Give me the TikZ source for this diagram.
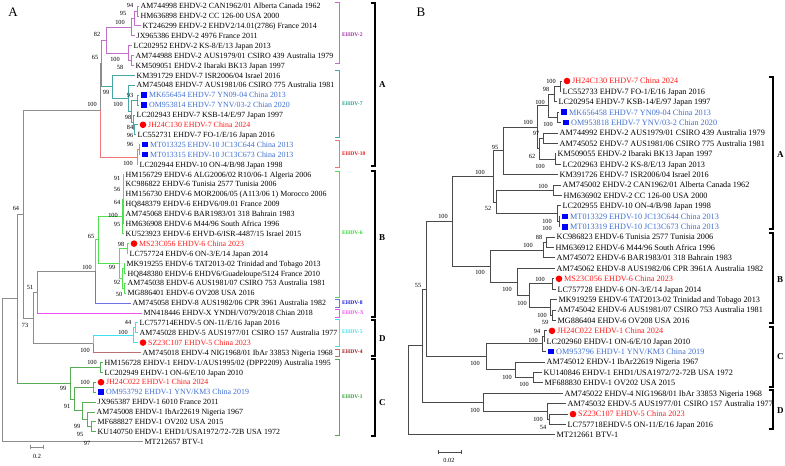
\documentclass[tikz,border=0pt]{standalone}
\usepackage{fontspec}
\setmainfont{Liberation Serif}
\usetikzlibrary{calc}

\definecolor{brgray}{HTML}{8C8C8C}
\definecolor{brdark}{HTML}{4A4A4A}
\definecolor{cltwo}{HTML}{C070C8}
\definecolor{lbtwo}{HTML}{A030A8}
\definecolor{clseven}{HTML}{48A8A8}
\definecolor{lbseven}{HTML}{20A090}
\definecolor{clten}{HTML}{F07878}
\definecolor{lbten}{HTML}{E81818}
\definecolor{clsix}{HTML}{50E050}
\definecolor{lbsix}{HTML}{30D830}
\definecolor{cleight}{HTML}{7070E8}
\definecolor{lbeight}{HTML}{1818E0}
\definecolor{clx}{HTML}{F050F0}
\definecolor{clfive}{HTML}{40E0F0}
\definecolor{clfour}{HTML}{B87070}
\definecolor{lbfour}{HTML}{A01818}
\definecolor{clone}{HTML}{58AC58}
\definecolor{lbone}{HTML}{30A030}
\definecolor{txtred}{HTML}{FF1A1A}
\definecolor{txtblue}{HTML}{3F6FD0}

\tikzset{
  brA/.style={line width=0.8pt, brgray},
  brB/.style={line width=1pt, brdark},
  tipA/.style={anchor=west, inner sep=1.5pt, font=\fontsize{7.9}{9}\selectfont, text height=5.4pt, text depth=0pt},
  tipB/.style={anchor=west, inner sep=1.5pt, font=\fontsize{8.2}{9}\selectfont, text height=5.6pt, text depth=0pt},
  bs/.style={inner sep=0pt, font=\fontsize{6.3}{7}\selectfont},
  dotm/.style={circle, fill=red, minimum size=6.6pt, inner sep=0pt},
  sqm/.style={fill=blue, minimum size=5.6pt, inner sep=0pt},
  sub/.style={anchor=west, inner sep=0pt, font=\fontsize{5.6}{7}\selectfont\bfseries},
  cltxt/.style={anchor=west, inner sep=0pt, font=\fontsize{9}{10}\selectfont\bfseries},
}

% internal node of a tree: name, x, child one, child two, style one, style two
\newcommand{\treenode}[6]{%
  \coordinate (#1-m) at ($(#3)!.5!(#4)$);
  \coordinate (#1) at (#2,0 |- #1-m);
  \draw[#5] (#1) |- (#3);
  \draw[#6] (#1) |- (#4);}
% bracket on the right: x, top, bottom, style
\newcommand{\cladebar}[4]{%
  \draw[#4] (#1-4,#2) -- (#1,#2) -- (#1,#3) -- (#1-4,#3);}

\begin{document}
\begin{tikzpicture}[x=1pt, y=-1pt]
	\useasboundingbox (0,0) rectangle (785,466);
	\def\rowA{9.9} % row step A
	\def\rowB{10.41} % row step B
	
	\node[font=\fontsize{13}{14}\selectfont] (pA) at (13,12) {A};
	\node[font=\fontsize{13}{14}\selectfont] (pB) at (421,12) {B};
	
	%%%%%%%%%%%%%%%%%%%% tree A
	% tips
	\foreach \i/\e/\t in {0/139/{AM744998 EHDV-2 CAN1962/01 Alberta Canada 1962},
		1/139/{HM636898 EHDV-2 CC 126-00 USA 2000},
		2/141/{KT246299 EHDV-2 EHDV2/14.01(2786) France 2014},
		3/135/{JX965386 EHDV-2 4976 France 2011},
		4/132/{LC202952 EHDV-2 KS-8/E/13 Japan 2013},
		5/134/{AM744988 EHDV-2 AUS1979/01 CSIRO 439 Australia 1979},
		6/134/{KM509051 EHDV-2 Ibaraki BK13 Japan 1997},
		7/135/{KM391729 EHDV-7 ISR2006/04 Israel 2016},
		8/135/{AM745048 EHDV-7 AUS1981/06 CSIRO 775 Australia 1981},
		11/135/{LC202943 EHDV-7 KSB-14/E/97 Japan 1997},
		13/136/{LC552731 EHDV-7 FO-1/E/16 Japan 2016},
		16/138/{LC202944 EHDV-10 ON-4/B/98 Japan 1998},
		17/124/{HM156729 EHDV-6 ALG2006/02 R10/06-1 Algeria 2006},
		18/124/{KC986822 EHDV-6 Tunisia 2577 Tunisia 2006},
		19/124/{HM156730 EHDV-6 MOR2006/05 (A113/06 1) Morocco 2006},
		20/124/{HQ848379 EHDV-6 EHDV6/09.01 France 2009},
		21/124/{AM745068 EHDV-6 BAR1983/01 318 Bahrain 1983},
		22/124/{HM636908 EHDV-6 M44/96 South Africa 1996},
		23/124/{KU523923 EHDV-6 EHVD-6/ISR-4487/15 Israel 2015},
		25/128/{LC757724 EHDV-6 ON-3/E/14 Japan 2014},
		26/125/{MK919255 EHDV-6 TAT2013-02 Trinidad and Tobago 2013},
		27/126/{HQ848380 EHDV-6 EHDV6/Guadeloupe/5124 France 2010},
		28/126/{AM745038 EHDV-6 AUS1981/07 CSIRO 753 Australia 1981},
		29/126/{MG886401 EHDV-6 OV208 USA 2016},
		30/131/{AM745058 EHDV-8 AUS1982/06 CPR 3961 Australia 1982},
		31/142/{MN418446 EHDV-X YNDH/V079/2018 Chian 2018},
		32/138/{LC757714EHDV-5 ON-11/E/16 Japan 2016},
		33/138/{AM745028 EHDV-5 AUS1977/01 CSIRO 157 Australia 1977},
		35/141/{AM745018 EHDV-4 NIG1968/01 IbAr 33853 Nigeria 1968},
		36/103/{HM156728 EHDV-1 EHDV-1/AUS1995/02 (DPP2209) Australia 1995},
		37/103/{LC202949 EHDV-1 ON-6/E/10 Japan 2010},
		40/96/{JX965387 EHDV-1 6010 France 2011},
		41/95/{AM745008 EHDV-1 IbAr22619 Nigeria 1967},
		42/96/{MF688827 EHDV-1 OV202 USA 2015},
		43/96/{KU140750 EHDV-1 EHD1/USA1972/72-72B USA 1972},
		44/143/{MT212657 BTV-1}}
	{
		\coordinate (a\i) at (\e,{6+\rowA*\i});
		\node[tipA] (ta\i) at (a\i) {\t};
	}
	% new strains
	\foreach \i/\e/\t in {12/138/{JH24C130 EHDV-7 China 2024},
		24/129/{MS23C056 EHDV-6 China 2023},
		34/138/{SZ23C107 EHDV-5 China 2023},
		38/96/{JH24C022 EHDV-1 China 2024}}
	{
		\coordinate (a\i) at (\e,{6+\rowA*\i});
		\node[dotm] (ma\i) at ($(a\i)+(5,0)$) {};
		\node[tipA, text=txtred] (ta\i) at ($(a\i)+(8.5,0)$) {\t};
	}
	\foreach \i/\e/\t in {9/139/{MK656454 EHDV-7 YN09-04 China 2013},
		10/139/{OM953814 EHDV-7 YNV/03-2 Chian 2020},
		14/140/{MT013325 EHDV-10 JC13C644 China 2013},
		15/140/{MT013315 EHDV-10 JC13C673 China 2013},
		39/96/{OM953792 EHDV-1 YNV/KM3 China 2019}}
	{
		\coordinate (a\i) at (\e,{6+\rowA*\i});
		\node[sqm] (ma\i) at ($(a\i)+(5,0)$) {};
		\node[tipA, text=txtblue] (ta\i) at ($(a\i)+(8.5,0)$) {\t};
	}
	
	% EHDV-2
	\treenode{Am94}{137}{a0}{a1}{brA,cltwo}{brA,cltwo}
	\treenode{Am95}{134}{Am94}{a2}{brA,cltwo}{brA,cltwo}
	\treenode{Am100a}{131}{Am95}{a3}{brA,cltwo}{brA,cltwo}
	\treenode{Am58}{131}{a5}{a6}{brA,cltwo}{brA,cltwo}
	\treenode{Am100b}{128}{a4}{Am58}{brA,cltwo}{brA,cltwo}
	\treenode{Am82}{106}{Am100a}{Am100b}{brA,cltwo}{brA,cltwo}
	% EHDV-7
	\treenode{At93}{137}{a9}{a10}{brA,clseven}{brA,clseven}
	\treenode{At96}{134.5}{a12}{a13}{brA,clseven}{brA,clseven}
	\treenode{At84}{133}{a11}{At96}{brA,clseven}{brA,clseven}
	\treenode{At98}{131}{At93}{At84}{brA,clseven}{brA,clseven}
	\treenode{At100}{128}{a8}{At98}{brA,clseven}{brA,clseven}
	\treenode{At99}{112}{a7}{At100}{brA,clseven}{brA,clseven}
	\treenode{A65}{101}{Am82}{At99}{brA,cltwo}{brA,clseven}
	% EHDV-10
	\treenode{Ar96}{139}{a14}{a15}{brA,clten}{brA,clten}
	\treenode{Ar100}{137}{Ar96}{a16}{brA,clten}{brA,clten}
	\treenode{AA}{100}{A65}{Ar100}{brA}{brA,clten}
	% EHDV-6
	\coordinate (Ag1-m) at ($(a17)!.5!(a22)$);
	\coordinate (Ag1) at (123,0 |- Ag1-m);
	\foreach \k in {17,...,22}
		\draw[brA,clsix] (Ag1) |- (a\k);
	\treenode{Ag2}{122}{Ag1}{a23}{brA,clsix}{brA,clsix}
	\treenode{Ag98}{127}{a24}{a25}{brA,clsix}{brA,clsix}
	\treenode{Ag99}{124}{a26}{a27}{brA,clsix}{brA,clsix}
	\treenode{Ag50}{124.5}{a28}{a29}{brA,clsix}{brA,clsix}
	\treenode{Ag92}{122}{Ag99}{Ag50}{brA,clsix}{brA,clsix}
	\treenode{Ag3}{119}{Ag98}{Ag92}{brA,clsix}{brA,clsix}
	\treenode{Ag6}{98}{Ag2}{Ag3}{brA,clsix}{brA,clsix}
	\treenode{AB}{95}{Ag6}{a30}{brA,clsix}{brA,cleight}
	\treenode{A51}{37}{AB}{a31}{brA}{brA,clx}
	% EHDV-5 and EHDV-4
	\treenode{Ae44}{135}{a32}{a33}{brA,clfive}{brA,clfive}
	\treenode{Ae5}{133}{Ae44}{a34}{brA,clfive}{brA,clfive}
	\treenode{AD}{93}{Ae5}{a35}{brA,clfive}{brA,clfour}
	\treenode{A73}{33}{A51}{AD}{brA}{brA}
	\treenode{A64}{23}{AA}{A73}{brA}{brA}
	% EHDV-1
	\treenode{Ac100a}{100}{a36}{a37}{brA,clone}{brA,clone}
	\treenode{Ac100b}{93}{a38}{a39}{brA,clone}{brA,clone}
	\treenode{Ac97}{91}{a42}{a43}{brA,clone}{brA,clone}
	\treenode{Ac95}{87}{a41}{Ac97}{brA,clone}{brA,clone}
	\treenode{Ac99}{82}{a40}{Ac95}{brA,clone}{brA,clone}
	\treenode{Ac91}{74}{Ac100b}{Ac99}{brA,clone}{brA,clone}
	\treenode{Ac1}{70}{Ac100a}{Ac91}{brA,clone}{brA,clone}
	\treenode{Ain}{17}{A64}{Ac1}{brA}{brA,clone}
	\treenode{Aroot}{2}{Ain}{a44}{brA}{brA}
	
	% bootstrap A
	\foreach \x/\y/\v [count=\n] in {130/5/94, 123/13/95, 120/22/100, 97/34/82,
		115/59/100, 120/67/58, 95/57/65, 106/92/99, 130/95/93, 118/104/100,
		128/117/98, 130/127/84, 130/135/96, 92/104/100, 130/144/96, 128/163/100,
		16/208/64, 117/178/91, 117/189/56, 117/202/64, 113/215/100, 117/224/95,
		91/236/65, 121/244/98, 87/267/100, 112/267/99, 117/282/92, 119/294/50,
		30/287/51, 25/325/73, 128/322/44, 123/332/100, 85/350/100, 92/362/100,
		85/382/100, 63/388/99, 67/406/91, 77/426/99, 80/434/95, 87/443/97}
		\node[bs] (bsa\n) at (\x,\y) {\v};
	
	% subtype brackets A
	\cladebar{339}{2}{63}{line width=0.8pt, cltwo}
	\cladebar{339}{70}{137}{line width=0.8pt, clseven}
	\cladebar{339}{140}{167}{line width=0.8pt, clten}
	\cladebar{339}{171}{297}{line width=0.8pt, clsix}
	\cladebar{339}{299}{307}{line width=0.8pt, cleight}
	\cladebar{339}{309}{317}{line width=0.8pt, clx}
	\cladebar{339}{319}{346}{line width=0.8pt, clfive}
	\cladebar{339}{349}{356}{line width=0.8pt, clfour}
	\cladebar{339}{359}{435}{line width=0.8pt, clone}
	\node[sub, text=lbtwo] (sA2) at (342,35) {EHDV-2};
	\node[sub, text=lbseven] (sA7) at (342,104) {EHDV-7};
	\node[sub, text=lbten] (sA10) at (342,154) {EHDV-10};
	\node[sub, text=lbsix] (sA6) at (342,233) {EHDV-6};
	\node[sub, text=lbeight] (sA8) at (342,303) {EHDV-8};
	\node[sub, text=clx] (sAX) at (342,313) {EHDV-X};
	\node[sub, text=clfive] (sA5) at (342,332) {EHDV-5};
	\node[sub, text=lbfour] (sA4) at (342,352) {EHDV-4};
	\node[sub, text=lbone] (sA1) at (342,397) {EHDV-1};
	% group brackets A
	\cladebar{375}{3}{166}{line width=1.3pt}
	\cladebar{375}{171}{317}{line width=1.3pt}
	\cladebar{375}{320}{356}{line width=1.3pt}
	\cladebar{375}{359}{436}{line width=1.3pt}
	\node[cltxt] (gAa) at (379,85) {A};
	\node[cltxt] (gAb) at (379,238) {B};
	\node[cltxt] (gAd) at (379,339) {D};
	\node[cltxt] (gAc) at (379,403) {C};
	
	% scale A
	\draw[line width=0.7pt, brgray] (30,445) -- (30,449) (30,447) -- (43,447) (43,445) -- (43,449);
	\node[bs] (scA) at (37,456) {0.2};
	
	%%%%%%%%%%%%%%%%%%%% tree B
	\foreach \i/\e/\t in {1/561/{LC552733 EHDV-7 FO-1/E/16 Japan 2016},
		2/557/{LC202954 EHDV-7 KSB-14/E/97 Japan 1997},
		5/558/{AM744992 EHDV-2 AUS1979/01 CSIRO 439 Australia 1979},
		6/558/{AM745052 EHDV-7 AUS1981/06 CSIRO 775 Australia 1981},
		7/556/{KM509055 EHDV-2 Ibaraki BK13 Japan 1997},
		8/561/{LC202963 EHDV-2 KS-8/E/13 Japan 2013},
		9/558/{KM391726 EHDV-7 ISR2006/04 Israel 2016},
		10/561/{AM745002 EHDV-2 CAN1962/01 Alberta Canada 1962},
		11/562/{HM636902 EHDV-2 CC 126-00 USA 2000},
		12/561/{LC202955 EHDV-10 ON-4/B/98 Japan 1998},
		15/555/{KC986823 EHDV-6 Tunisia 2577 Tunisia 2006},
		16/554/{HM636912 EHDV-6 M44/96 South Africa 1996},
		17/555/{AM745072 EHDV-6 BAR1983/01 318 Bahrain 1983},
		18/555/{AM745062 EHDV-8 AUS1982/06 CPR 3961A Australia 1982},
		20/556/{LC757728 EHDV-6 ON-3/E/14 Japan 2014},
		21/557/{MK919259 EHDV-6 TAT2013-02 Trinidad and Tobago 2013},
		22/556/{AM745042 EHDV-6 AUS1981/07 CSIRO 753 Australia 1981},
		23/556/{MG886404 EHDV-6 OV208 USA 2016},
		25/545/{LC202960 EHDV-1 ON-6/E/10 Japan 2010},
		27/545/{AM745012 EHDV-1 IbAr22619 Nigeria 1967},
		28/542/{KU140846 EHDV-1 EHD1/USA1972/72-72B USA 1972},
		29/543/{MF688830 EHDV-1 OV202 USA 2015},
		30/563/{AM745022 EHDV-4 NIG1968/01 IbAr 33853 Nigeria 1968},
		31/566/{AM745032 EHDV-5 AUS1977/01 CSIRO 157 Australia 1977},
		33/566/{LC757718EHDV-5 ON-11/E/16 Japan 2016},
		34/555/{MT212661 BTV-1}}
	{
		\coordinate (b\i) at (\e,{81+\rowB*\i});
		\node[tipB] (tb\i) at (b\i) {\t};
	}
	\foreach \i/\e/\t in {0/562/{JH24C130 EHDV-7 China 2024},
		19/554/{MS23C056 EHDV-6 China 2023},
		24/547/{JH24C022 EHDV-1 China 2024},
		32/568/{SZ23C107 EHDV-5 China 2023}}
	{
		\coordinate (b\i) at (\e,{81+\rowB*\i});
		\node[dotm] (mb\i) at ($(b\i)+(5,0)$) {};
		\node[tipB, text=txtred] (tb\i) at ($(b\i)+(8.5,0)$) {\t};
	}
	\foreach \i/\e/\t in {3/559/{MK656458 EHDV-7 YN09-04 China 2013},
		4/561/{OM953818 EHDV-7 YNV/03-2 Chian 2020},
		13/560/{MT013329 EHDV-10 JC13C644 China 2013},
		14/560/{MT013319 EHDV-10 JC13C673 China 2013},
		26/546/{OM953796 EHDV-1 YNV/KM3 China 2019}}
	{
		\coordinate (b\i) at (\e,{81+\rowB*\i});
		\node[sqm] (mb\i) at ($(b\i)+(5,0)$) {};
		\node[tipB, text=txtblue] (tb\i) at ($(b\i)+(8.5,0)$) {\t};
	}
	
	\treenode{Bb1}{560}{b0}{b1}{brB}{brB}
	\treenode{Bb2}{554}{Bb1}{b2}{brB}{brB}
	\treenode{Bb3}{557}{b3}{b4}{brB}{brB}
	\treenode{Bb4}{548}{Bb2}{Bb3}{brB}{brB}
	\treenode{Bb5}{543}{b5}{b6}{brB}{brB}
	\treenode{Bb6}{555}{b7}{b8}{brB}{brB}
	\treenode{Bb7}{539}{Bb5}{Bb6}{brB}{brB}
	\treenode{Bb8}{537}{Bb4}{Bb7}{brB}{brB}
	\treenode{Bb9}{503}{Bb8}{b9}{brB}{brB}
	\treenode{Bb10}{553}{b10}{b11}{brB}{brB}
	\treenode{Bb11}{559}{b13}{b14}{brB}{brB}
	\treenode{Bb12}{557}{b12}{Bb11}{brB}{brB}
	\treenode{Bb13}{496}{Bb10}{Bb12}{brB}{brB}
	\treenode{Bb14}{493}{Bb9}{Bb13}{brB}{brB}
	\treenode{Bb15}{546}{b15}{b16}{brB}{brB}
	\treenode{Bb16}{543}{Bb15}{b17}{brB}{brB}
	\treenode{Bb17}{552}{b19}{b20}{brB}{brB}
	\treenode{Bb18}{552}{b22}{b23}{brB}{brB}
	\treenode{Bb19}{550}{b21}{Bb18}{brB}{brB}
	\treenode{Bb20}{529}{Bb17}{Bb19}{brB}{brB}
	\treenode{Bb21}{517}{b18}{Bb20}{brB}{brB}
	\treenode{Bb22}{490}{Bb16}{Bb21}{brB}{brB}
	\treenode{Bb23}{452}{Bb14}{Bb22}{brB}{brB}
	\treenode{Bb24}{544}{b24}{b25}{brB}{brB}
	\treenode{Bb25}{542}{Bb24}{b26}{brB}{brB}
	\treenode{Bb26}{533}{b28}{b29}{brB}{brB}
	\treenode{Bb27}{515}{b27}{Bb26}{brB}{brB}
	\treenode{Bb28}{486}{Bb25}{Bb27}{brB}{brB}
	\treenode{Bb29}{426}{Bb23}{Bb28}{brB}{brB}
	\treenode{Bb30}{549}{b32}{b33}{brB}{brB}
	\treenode{Bb31}{547}{b31}{Bb30}{brB}{brB}
	\treenode{Bb32}{483}{b30}{Bb31}{brB}{brB}
	\treenode{Bb33}{422}{Bb29}{Bb32}{brB}{brB}
	\treenode{Broot}{408}{Bb33}{b34}{brB}{brB}
	
	% bootstrap B
	\foreach \x/\y/\v [count=\n] in {551/81/100, 546/89/98, 540/102/100, 548/124/100,
		528/122/100, 536/133/97, 532/156/62, 540/166/100, 495/147/95, 480/172/100,
		543/186/100, 488/208/52, 547/221/100, 547/228/100, 443/216/100, 539/237/88,
		528/245/100, 480/272/100, 540/279/100, 507/289/100, 522/303/100, 542/315/100,
		545/322/59, 418/285/55, 537/331/94, 533/340/100, 475/363/100, 507/377/100,
		524/384/100, 475/410/100, 538/419/100, 543/427/54}
		\node[bs] (bsb\n) at (\x,\y) {\v};
	
	% group brackets B
	\cladebar{773}{77}{229}{line width=1.3pt}
	\cladebar{773}{233}{323}{line width=1.3pt}
	\cladebar{773}{327}{387}{line width=1.3pt}
	\cladebar{773}{390}{429}{line width=1.3pt}
	\node[cltxt] (gBa) at (777,155) {A};
	\node[cltxt] (gBb) at (777,280) {B};
	\node[cltxt] (gBc) at (777,357) {C};
	\node[cltxt] (gBd) at (777,411) {D};
	
	% scale B
	\draw[line width=0.8pt, brdark] (438,450) -- (438,454) (438,452) -- (461,452) (461,450) -- (461,454);
	\node[bs] (scB) at (449,460) {0.02};
\end{tikzpicture}
\end{document}
